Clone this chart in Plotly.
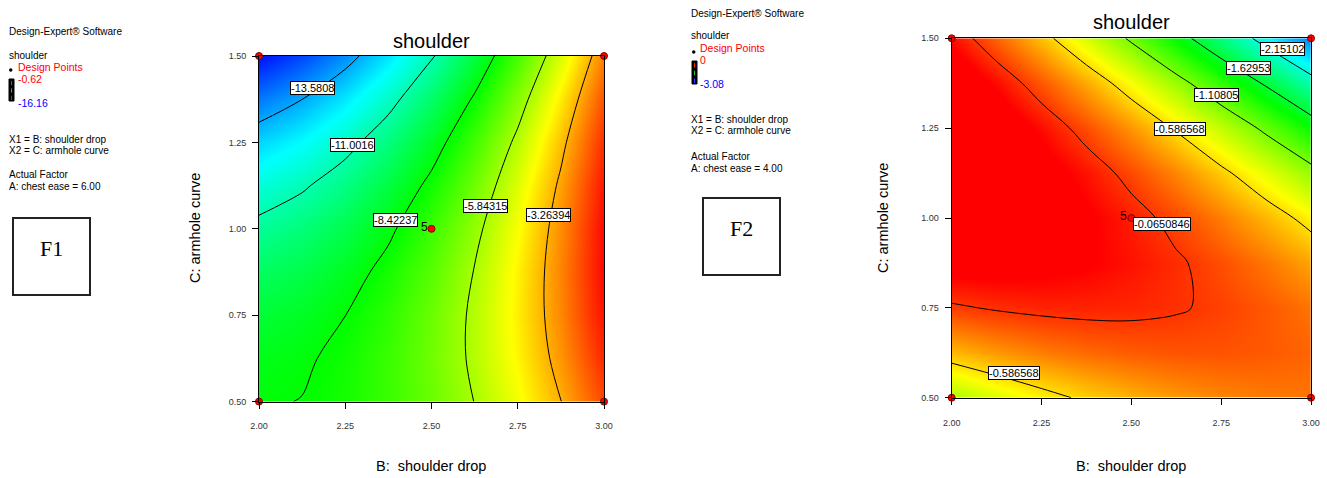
import plotly.graph_objects as go

W, H = 1327, 478

# factor grid (B: shoulder drop, C: armhole curve)
b_vals = [2.0, 2.125, 2.25, 2.375, 2.5, 2.625, 2.75, 2.875, 3.0]
c_vals = [0.5, 0.625, 0.75, 0.875, 1.0, 1.125, 1.25, 1.375, 1.5]
tick_b = [2.0, 2.25, 2.5, 2.75, 3.0]
tick_c = [0.5, 0.75, 1.0, 1.25, 1.5]

z_f1 = [
    [-8.52, -8.398, -8.068, -7.528, -6.78, -5.823, -4.658, -3.283, -1.70],
    [-8.769, -8.568, -8.154, -7.527, -6.686, -5.632, -4.364, -2.883, -1.189],
    [-9.212, -8.929, -8.429, -7.711, -6.775, -5.622, -4.251, -2.662, -0.856],
    [-9.85, -9.482, -8.892, -8.08, -7.047, -5.792, -4.317, -2.619, -0.70],
    [-10.68, -10.223, -9.54, -8.633, -7.5, -6.143, -4.56, -2.753, -0.72],
    [-11.704, -11.154, -10.376, -9.37, -8.136, -6.674, -4.983, -3.065, -0.918],
    [-12.922, -12.276, -11.399, -10.291, -8.953, -7.384, -5.584, -3.553, -1.292],
    [-14.334, -13.588, -12.61, -11.398, -9.953, -8.275, -6.364, -4.22, -1.842],
    [-15.939, -15.091, -14.007, -12.689, -11.135, -9.347, -7.323, -5.065, -2.571],
]

z_f2 = [
    [-0.957, -0.800, -0.663, -0.547, -0.450, -0.373, -0.317, -0.280, -0.264],
    [-0.475, -0.372, -0.289, -0.226, -0.183, -0.160, -0.157, -0.175, -0.212],
    [-0.094, -0.045, -0.016, -0.007, -0.018, -0.048, -0.099, -0.170, -0.261],
    [0.185, 0.181, 0.156, 0.112, 0.047, -0.038, -0.142, -0.267, -0.412],
    [0.364, 0.305, 0.227, 0.128, 0.010, -0.128, -0.287, -0.465, -0.664],
    [0.440, 0.328, 0.196, 0.044, -0.128, -0.320, -0.532, -0.765, -1.017],
    [0.416, 0.250, 0.064, -0.142, -0.368, -0.613, -0.879, -1.165, -1.471],
    [0.290, 0.071, -0.169, -0.429, -0.708, -1.008, -1.327, -1.667, -2.027],
    [0.064, -0.210, -0.503, -0.817, -1.150, -1.503, -1.877, -2.270, -2.684],
]

# contour levels
levels_f1 = [-13.5808, -11.0016, -8.42237, -5.84315, -3.26394]
levels_f2 = [-2.15102, -1.62953, -1.10805, -0.586568, -0.0650846]

# contour label positions (data coords)
labels_f1 = [("-13.5808", 2.154, 1.407), ("-11.0016", 2.270, 1.242),
             ("-8.42237", 2.397, 1.025), ("-5.84315", 2.657, 1.067),
             ("-3.26394", 2.840, 1.041)]
labels_f2 = [("-2.15102", 2.921, 1.469), ("-1.62953", 2.825, 1.417),
             ("-1.10805", 2.738, 1.343), ("-0.586568", 2.636, 1.247),
             ("-0.0650846", 2.586, 0.983), ("-0.586568", 2.174, 0.568)]

# design points
pts_b = [2.0, 2.0, 3.0, 3.0, 2.5]
pts_c = [0.5, 1.5, 0.5, 1.5, 1.0]

DE_SCALE = [[0, '#0000ff'], [0.25, '#00ffff'], [0.5, '#00ff00'],
            [0.75, '#ffff00'], [1, '#ff0000']]
FONT = 'Liberation Sans, Arial, sans-serif'


def px(x):
    return x / W


def py(y):
    return 1 - y / H


fig = go.Figure()

for z, lv, zr, xa, ya in [(z_f1, levels_f1, (-16.16, -0.62), 'x', 'y'),
                          (z_f2, levels_f2, (-3.08, 0.1), 'x2', 'y2')]:
    step = (lv[-1] - lv[0]) / (len(lv) - 1)
    fig.add_trace(go.Contour(
        x=b_vals, y=c_vals, z=z,
        colorscale=DE_SCALE, zmin=zr[0], zmax=zr[1], zauto=False,
        contours=dict(start=lv[0], end=lv[-1] + step * 0.01, size=step,
                      coloring='heatmap'),
        line=dict(color='black', width=1, smoothing=1),
        showscale=False, hoverinfo='skip', xaxis=xa, yaxis=ya,
    ))
    fig.add_trace(go.Scatter(
        x=pts_b, y=pts_c, mode='markers', cliponaxis=False,
        marker=dict(color='#ff0000', size=7, line=dict(color='#8b0000', width=1)),
        showlegend=False, hoverinfo='skip', xaxis=xa, yaxis=ya,
    ))

ann = []
for labs, xr, yr in [(labels_f1, 'x', 'y'), (labels_f2, 'x2', 'y2')]:
    for t, xx, yy in labs:
        ann.append(dict(x=xx, y=yy, xref=xr, yref=yr, text=t, showarrow=False,
                        xanchor='center', yanchor='middle',
                        font=dict(family=FONT, size=11, color='black'),
                        bgcolor='white', bordercolor='black', borderwidth=1,
                        borderpad=0))
    ann.append(dict(x=2.5, y=1.0, xref=xr, yref=yr, text='5', showarrow=False,
                    xanchor='right', yanchor='middle', xshift=-2, yshift=2,
                    font=dict(family=FONT, size=12, color='black')))


def note(x, y, text, size=10, color='black', **kw):
    d = dict(x=px(x), y=py(y), xref='paper', yref='paper', text=text,
             showarrow=False, xanchor='left', yanchor='middle',
             font=dict(family=FONT, size=size, color=color))
    d.update(kw)
    ann.append(d)


def centred(x, y, text, size, angle=0, family=FONT):
    ann.append(dict(x=px(x), y=py(y), xref='paper', yref='paper', text=text,
                    showarrow=False, xanchor='center', yanchor='middle',
                    textangle=angle, font=dict(family=family, size=size, color='black')))


# side notes
for x0, y0, hi, lo, ce in [(7, 32, '-0.62', '-16.16', '6.00'),
                           (689, 13, '0', '-3.08', '4.00')]:
    dy = y0 - 32
    note(x0, y0, 'Design-Expert® Software')
    note(x0, 55 + dy, 'shoulder')
    note(x0 + 9, 67 + dy, 'Design Points', color='#ff0000', size=10.5)
    note(x0 + 9, 79 + dy, hi, color='#ff0000', size=10.5)
    note(x0 + 9, 103 + dy, lo, color='#0000ff', size=10.5)
    note(x0, 139 + dy - (1 if dy else 0), 'X1 = B: shoulder drop')
    note(x0, 151 + dy - (1 if dy else 0), 'X2 = C: armhole curve')
    note(x0, 174 + dy + (1 if dy else 0), 'Actual Factor')
    note(x0, 186 + dy + (1 if dy else 0), 'A: chest ease = ' + ce)

# titles and axis titles
for cx, ty, yx, yy in [(431, 41, 195, 228), (1131, 22, 883, 218)]:
    centred(cx, ty, 'shoulder', 20)
    centred(cx, 466, 'B:  shoulder drop', 14.5)
    centred(yx, yy, 'C: armhole curve', 14.5, angle=-90)

# F1 / F2 boxes
boxes = [(13, 218, 90, 295, 'F1'), (703, 198, 780, 275, 'F2')]
shapes = []
for x0, y0, x1, y1, t in boxes:
    centred((x0 + x1) / 2, y0 + 30, t, 22,
            family='Liberation Serif, Times New Roman, serif')
    shapes.append(dict(type='rect', xref='paper', yref='paper',
                       x0=px(x0), x1=px(x1), y0=py(y0), y1=py(y1),
                       line=dict(color='#222', width=2)))

# mini colour bars and design-point glyphs
for x0, y0, y1, dot_y in [(9, 79, 101, 70), (692, 61, 84, 52)]:
    shapes.append(dict(type='rect', xref='paper', yref='paper',
                       x0=px(x0), x1=px(x0 + 5), y0=py(y0), y1=py(y1),
                       fillcolor='black', line=dict(color='black', width=1)))
    seg = (y1 - y0) / 3
    for i, col in enumerate(['#ff2000', '#20c020', '#2040ff']):
        shapes.append(dict(type='line', xref='paper', yref='paper',
                           x0=px(x0 + 2.5), x1=px(x0 + 2.5),
                           y0=py(y0 + 2 + i * seg), y1=py(y0 + (i + 1) * seg - 1),
                           line=dict(color=col, width=1)))
    shapes.append(dict(type='circle', xref='paper', yref='paper',
                       x0=px(x0), x1=px(x0 + 3.5), y0=py(dot_y - 1.8), y1=py(dot_y + 1.8),
                       fillcolor='black', line=dict(color='black', width=0)))

axis_common = dict(showline=True, linecolor='black', linewidth=1, mirror=True,
                   ticks='outside', ticklen=6, tickcolor='black', showgrid=False,
                   zeroline=False, tickformat='.2f',
                   tickfont=dict(family=FONT, size=9, color='#333'))

fig.update_layout(
    width=W, height=H,
    margin=dict(l=0, r=0, t=0, b=0, autoexpand=False),
    paper_bgcolor='white', plot_bgcolor='white',
    showlegend=False,
    xaxis=dict(domain=[px(259), px(604)], range=[2, 3], tickvals=tick_b,
               anchor='y', ticklabelstandoff=10, **axis_common),
    yaxis=dict(domain=[py(401.6), py(56)], range=[0.5, 1.5], tickvals=tick_c,
               anchor='x', ticklabelstandoff=4, **axis_common),
    xaxis2=dict(domain=[px(951.7), px(1311)], range=[2, 3], tickvals=tick_b,
                anchor='y2', ticklabelstandoff=10, **axis_common),
    yaxis2=dict(domain=[py(397.7), py(38.3)], range=[0.5, 1.5], tickvals=tick_c,
                anchor='x2', ticklabelstandoff=4, **axis_common),
    annotations=ann,
    shapes=shapes,
)

fig.write_html("out.html",
               config={'displayModeBar': False},
               post_script="document.body.style.margin='0';"
                           "document.body.style.overflow='hidden';")
